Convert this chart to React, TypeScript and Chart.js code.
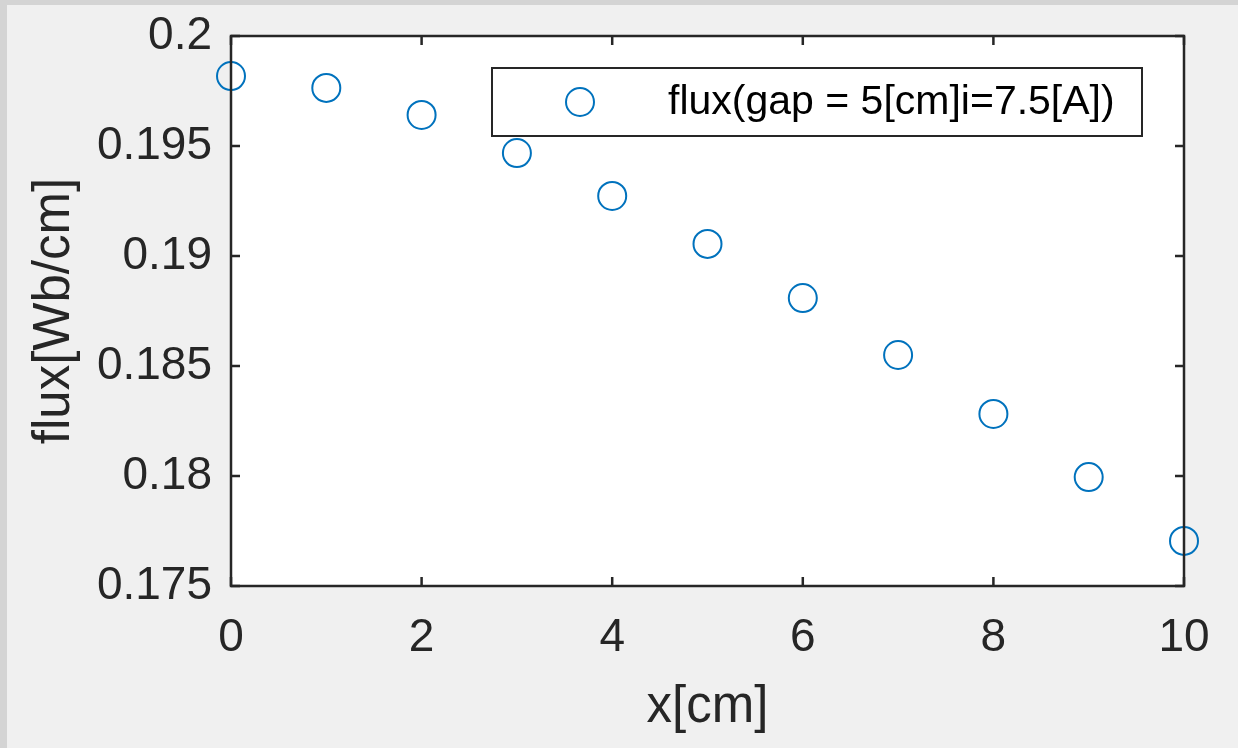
import React, { useEffect, useRef } from "react";
import { Chart, registerables } from "chart.js";

Chart.register(...registerables);

const xPositions = [0, 1, 2, 3, 4, 5, 6, 7, 8, 9, 10];
const fluxValues = [0.19818, 0.19764, 0.19641, 0.19468, 0.19273, 0.19055, 0.18809, 0.1855, 0.18282, 0.17995, 0.17705];
const xTicks = [0, 2, 4, 6, 8, 10];
const yTicks = [0.175, 0.18, 0.185, 0.19, 0.195, 0.2];
const seriesLabel = "flux(gap = 5[cm]i=7.5[A])";
const xTitle = "x[cm]";
const yTitle = "flux[Wb/cm]";

const AXIS_COLOR = "#262626";
const BLUE = "#0072BD";
const FONT = "'Liberation Sans', Arial, sans-serif";

const framePlugin = {
  id: "matlabFrame",
  beforeDatasetsDraw(chart: any) {
    const { ctx, chartArea: a } = chart;
    ctx.save();
    ctx.fillStyle = "#ffffff";
    ctx.fillRect(a.left, a.top, a.right - a.left, a.bottom - a.top);
    ctx.restore();
  },
  afterDatasetsDraw(chart: any) {
    const { ctx, chartArea: a, scales } = chart;
    ctx.save();
    ctx.strokeStyle = AXIS_COLOR;
    ctx.lineWidth = 2.5;
    const tl = 9;
    ctx.beginPath();
    for (const v of xTicks) {
      const px = scales.x.getPixelForValue(v);
      ctx.moveTo(px, a.bottom);
      ctx.lineTo(px, a.bottom - tl);
      ctx.moveTo(px, a.top);
      ctx.lineTo(px, a.top + tl);
    }
    for (const v of yTicks) {
      const py = scales.y.getPixelForValue(v);
      ctx.moveTo(a.left, py);
      ctx.lineTo(a.left + tl, py);
      ctx.moveTo(a.right, py);
      ctx.lineTo(a.right - tl, py);
    }
    ctx.stroke();
    ctx.strokeRect(a.left, a.top, a.right - a.left, a.bottom - a.top);

    // legend
    const ds = chart.data.datasets[0];
    const lx = 492, ly = 68, lw = 650, lh = 68;
    ctx.fillStyle = "#ffffff";
    ctx.fillRect(lx, ly, lw, lh);
    ctx.lineWidth = 2;
    ctx.strokeStyle = AXIS_COLOR;
    ctx.strokeRect(lx, ly, lw, lh);
    ctx.beginPath();
    ctx.strokeStyle = ds.borderColor;
    ctx.lineWidth = ds.borderWidth;
    ctx.arc(580, ly + lh / 2, ds.pointRadius, 0, Math.PI * 2);
    ctx.stroke();
    ctx.fillStyle = "#000000";
    ctx.font = `41px ${FONT}`;
    ctx.textAlign = "left";
    ctx.textBaseline = "middle";
    ctx.fillText(ds.label, 668, ly + lh / 2 + 1);
    ctx.restore();
  },
};

export default function App() {
  const canvasRef = useRef<HTMLCanvasElement | null>(null);

  useEffect(() => {
    document.body.style.margin = "0";
    const canvas = canvasRef.current;
    if (!canvas) return;
    const chart = new Chart(canvas, {
      type: "scatter",
      data: {
        datasets: [
          {
            label: seriesLabel,
            data: xPositions.map((x, i) => ({ x, y: fluxValues[i] })),
            borderColor: BLUE,
            backgroundColor: "rgba(0,0,0,0)",
            borderWidth: 2,
            pointRadius: 14,
            pointHoverRadius: 14,
            pointStyle: "circle",
            showLine: false,
            clip: false as any,
          },
        ],
      },
      options: {
        responsive: false,
        animation: false,
        devicePixelRatio: 1,
        layout: { padding: { left: 0, top: 36, right: 54, bottom: 0 } },
        plugins: {
          legend: { display: false },
          tooltip: { enabled: false },
        },
        events: [],
        scales: {
          x: {
            type: "linear",
            position: "bottom",
            min: 0,
            max: 10,
            grid: { display: false, drawTicks: false },
            border: { display: false },
            afterBuildTicks: (s: any) => {
              s.ticks = xTicks.map((v) => ({ value: v }));
            },
            afterFit: (s: any) => {
              s.height = 162;
              s.paddingLeft = 0;
              s.paddingRight = 0;
            },
            ticks: {
              autoSkip: false,
              maxRotation: 0,
              padding: 25,
              color: AXIS_COLOR,
              font: { family: FONT, size: 46 },
              callback: (v: any) => String(v),
            },
            title: {
              display: true,
              text: xTitle,
              color: AXIS_COLOR,
              font: { family: FONT, size: 51 },
              padding: { top: 0, bottom: 9 },
            },
          },
          y: {
            type: "linear",
            position: "left",
            min: 0.175,
            max: 0.2,
            grid: { display: false, drawTicks: false },
            border: { display: false },
            afterBuildTicks: (s: any) => {
              s.ticks = yTicks.map((v) => ({ value: v }));
            },
            afterFit: (s: any) => {
              s.width = 231;
              s.paddingTop = 0;
              s.paddingBottom = 0;
            },
            ticks: {
              autoSkip: false,
              padding: 19,
              color: AXIS_COLOR,
              font: { family: FONT, size: 46 },
              callback: (v: any) => String(Number(Number(v).toFixed(3))),
            },
            title: {
              display: true,
              text: yTitle,
              color: AXIS_COLOR,
              font: { family: FONT, size: 51 },
              padding: { top: 24, bottom: 0 },
            },
          },
        },
      },
      plugins: [framePlugin],
    } as any);
    return () => chart.destroy();
  }, []);

  return (
    <div
      style={{
        position: "fixed",
        left: 0,
        top: 0,
        width: 1238,
        height: 748,
        background: "#f0f0f0",
        overflow: "hidden",
      }}
    >
      <div style={{ position: "absolute", left: 0, top: 0, width: 1238, height: 5, background: "#d4d4d4" }} />
      <div style={{ position: "absolute", left: 0, top: 0, width: 7, height: 748, background: "#d4d4d4" }} />
      <canvas
        ref={canvasRef}
        width={1238}
        height={748}
        style={{ position: "absolute", left: 0, top: 0, width: 1238, height: 748 }}
      />
    </div>
  );
}
